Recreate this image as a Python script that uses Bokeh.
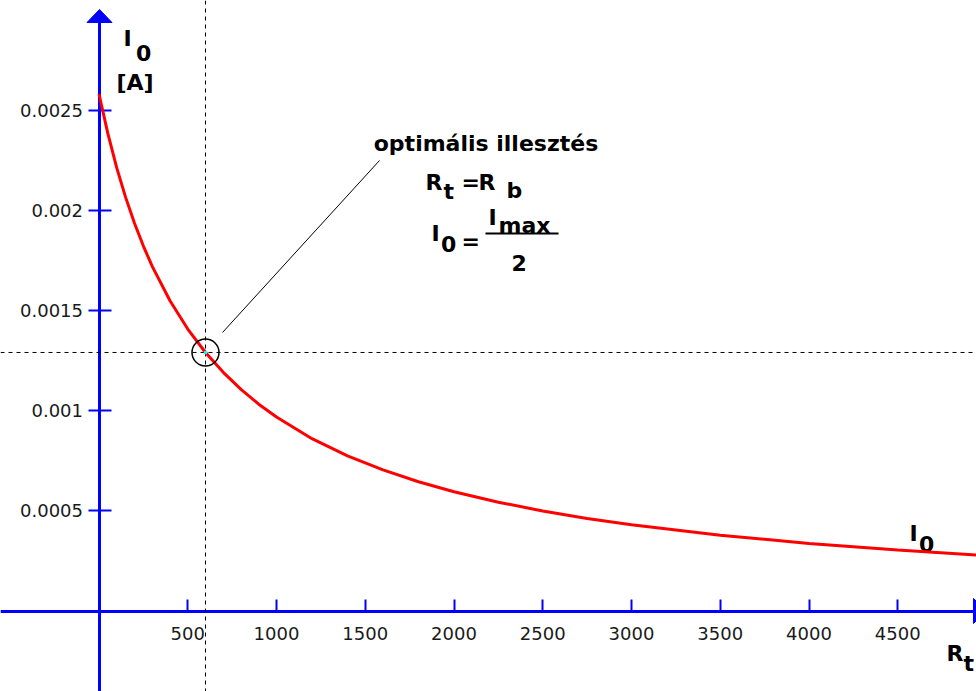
from bokeh.plotting import figure
from bokeh.models import Range1d, LinearAxis, FixedTicker, Span
from bokeh.core.properties import value
from bokeh.embed import file_html
from bokeh.resources import INLINE

# ---------------- data ----------------
Rt = [0, 50, 100, 150, 200, 250, 300, 400, 500, 600, 700, 800, 900, 1000,
      1200, 1400, 1600, 1800, 2000, 2250, 2500, 2750, 3000, 3500, 4000, 4500, 5000]
I0 = [0.00258, 0.002382, 0.002211, 0.002064, 0.001935, 0.001821, 0.00172,
      0.001548, 0.001407, 0.00129, 0.001191, 0.001106, 0.001032, 0.000968,
      0.00086, 0.000774, 0.000704, 0.000645, 0.000595, 0.000543, 0.000499,
      0.000462, 0.00043, 0.000378, 0.000337, 0.000304, 0.000276]

R_b = 600          # optimal load resistance
I_opt = 0.00129    # I_max / 2

x_ticks = [500, 1000, 1500, 2000, 2500, 3000, 3500, 4000, 4500]
y_ticks = [0.0005, 0.001, 0.0015, 0.002, 0.0025]
y_tick_labels = ["0.0005", "0.001", "0.0015", "0.002", "0.0025"]

# ---------------- geometry ----------------
W, H = 976, 691
FIG_L, FIG_T = 0, 0
X_PX0, X_PPU = 98.5, 0.1775      # px of Rt=0, px per ohm
Y_PX0, Y_PPU = 610.5, 200400.0   # px of I0=0, px per ampere

def dx(px):
    return (px - X_PX0) / X_PPU

def dy(py):
    return (Y_PX0 - py) / Y_PPU

x_min, x_max = dx(FIG_L), dx(FIG_L + W)
y_max, y_min = dy(FIG_T), dy(FIG_T + H)

BLUE = "#0000FF"
RED = "#FF0000"
INK = "#000000"

p = figure(width=W, height=H, output_backend="svg", toolbar_location=None,
           x_range=Range1d(x_min, x_max), y_range=Range1d(y_min, y_max),
           x_axis_type=None, y_axis_type=None, min_border=0)
p.outline_line_color = None
p.background_fill_color = "white"
p.border_fill_color = "white"
p.xgrid.visible = False
p.ygrid.visible = False

# axes through the origin
yaxis = LinearAxis(fixed_location=0, ticker=FixedTicker(ticks=y_ticks),
                   major_label_overrides=dict(zip(y_ticks, y_tick_labels)),
                   axis_line_color=BLUE, axis_line_width=3,
                   major_tick_line_color=BLUE, major_tick_line_width=2,
                   major_tick_in=12, major_tick_out=11,
                   minor_tick_line_color=None, major_label_standoff=5,
                   major_label_text_font="DejaVu Sans",
                   major_label_text_font_size="18px",
                   major_label_text_color="#1a1a1a",
                   bounds=(y_min, dy(21)))
p.add_layout(yaxis, "left")

xaxis = LinearAxis(fixed_location=0, ticker=FixedTicker(ticks=x_ticks),
                   axis_line_color=BLUE, axis_line_width=3,
                   major_tick_line_color=BLUE, major_tick_line_width=2,
                   major_tick_in=12, major_tick_out=0,
                   minor_tick_line_color=None, major_label_standoff=16,
                   major_label_text_font="DejaVu Sans",
                   major_label_text_font_size="18px",
                   major_label_text_color="#1a1a1a",
                   bounds=(x_min, dx(973)))
p.add_layout(xaxis, "below")

# arrow head of the vertical axis
p.patch(x=[dx(99), dx(86.5), dx(111.5)], y=[dy(9), dy(22), dy(22)],
        fill_color=BLUE, line_color=BLUE, line_width=1)
# arrow head of the horizontal axis (tip runs off the right edge)
p.patch(x=[dx(973), dx(986), dx(973)], y=[dy(598), dy(610.5), dy(623)],
        fill_color=BLUE, line_color=BLUE, line_width=1)

# dashed guide lines at the optimum
p.add_layout(Span(location=R_b, dimension="height", line_color=INK,
                  line_width=1, line_dash="4 4"))
p.add_layout(Span(location=I_opt, dimension="width", line_color=INK,
                  line_width=1, line_dash="4 4"))

# the curve
curve = p.line(Rt, I0, line_color=RED, line_width=3)
curve.level = "overlay"

# circle marking the optimum
mk = p.scatter([R_b], [I_opt], marker="circle", size=27, fill_color=None,
               line_color=INK, line_width=1.5)
mk.level = "overlay"
dot = p.scatter([R_b], [I_opt], marker="square", size=3, fill_color="#00FFFF",
                line_color=None)
dot.level = "overlay"

# leader line to the annotation
p.segment(x0=[dx(222)], y0=[dy(332)], x1=[dx(379)], y1=[dy(160)],
          line_color=INK, line_width=1)

# fraction bar
p.segment(x0=[dx(485)], y0=[dy(233)], x1=[dx(558)], y1=[dy(233)],
          line_color=INK, line_width=2)

# texts (left-aligned pieces: text, left px, baseline px)
pieces = [
    ("R", 425, 182), ("t", 443, 191), ("=", 461, 182), ("R", 478, 182), ("b", 506, 190),
    ("I", 431, 233), ("0", 440.5, 243), ("=", 461, 241),
    ("I", 488, 217), ("max", 498, 225), ("2", 511, 262),
    ("I", 123, 38), ("0", 135.5, 52), ("[A]", 116, 82),
    ("I", 909, 533), ("0", 918.5, 543),
    ("R", 946, 653), ("t", 963, 663),
]
p.text(x=[dx(a) for _, a, _ in pieces], y=[dy(b) for _, _, b in pieces],
       text=[t for t, _, _ in pieces],
       text_font=value("DejaVu Sans"), text_font_style="bold",
       text_font_size="22px", text_color=INK,
       text_align="left", text_baseline="alphabetic")

p.text(x=[dx(485.5)], y=[dy(143)], text=["optimális illesztés"],
       text_font=value("DejaVu Sans"), text_font_style="bold",
       text_font_size="22px", text_color=INK,
       text_align="center", text_baseline="alphabetic")

open("out.html", "w").write(file_html(p, INLINE))
